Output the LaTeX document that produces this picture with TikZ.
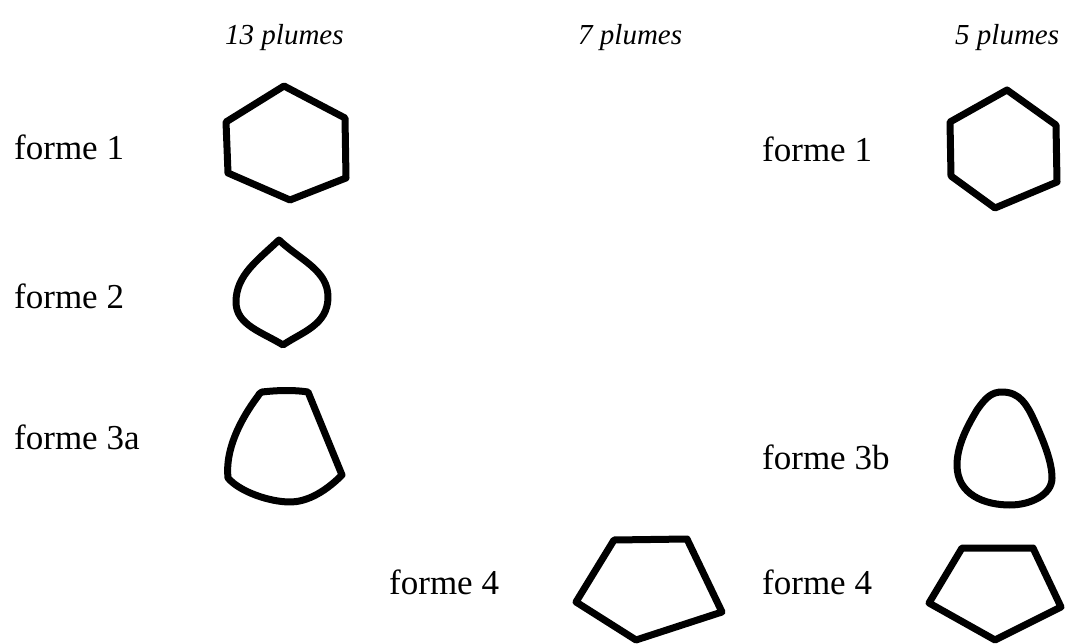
\documentclass[tikz,border=0pt]{standalone}
\usepackage{fontspec}
\setmainfont{Liberation Serif}
\begin{document}
\begin{tikzpicture}[x=1pt,y=-1pt,
  lbl/.style={anchor=base west,inner sep=0pt,font=\fontsize{35}{40}\selectfont},
  hdr/.style={anchor=base west,inner sep=0pt,font=\fontsize{29}{32}\selectfont\itshape},
  shp/.style={line width=7pt,line join=round,line cap=round}]
\useasboundingbox (0,0) rectangle (1066,644);
% headers
\node[hdr] (h13) at (225,45) {13 plumes};
\node[hdr] (h7) at (578,45) {7 plumes};
\node[hdr] (h5) at (955,45) {5 plumes};
% labels
\node[lbl] (l1) at (14,160) {forme 1};
\node[lbl] (l2) at (14,309) {forme 2};
\node[lbl] (l3a) at (14,449) {forme 3a};
\node[lbl] (r1) at (762,162) {forme 1};
\node[lbl] (r3b) at (762,469) {forme 3b};
\node[lbl] (m4) at (389,594) {forme 4};
\node[lbl] (r4) at (762,594) {forme 4};
% 13 plumes, forme 1
\draw[shp] (284,86) -- (345,118) -- (346,178) -- (290,200) -- (228,173) -- (226,122) -- cycle;
% forme 2
\draw[shp] (279,240) .. controls (300,260) and (328,270) .. (328,297)
  .. controls (328,325) and (302,332) .. (283,345)
  .. controls (262,332) and (236,325) .. (236,302)
  .. controls (236,275) and (258,260) .. (279,240) -- cycle;
% forme 3a
\draw[shp] (262,392) .. controls (280,390) and (295,390) .. (308,392)
  -- (342,475)
  .. controls (322,495) and (304,502) .. (290,502)
  .. controls (270,502) and (240,492) .. (228,478)
  .. controls (225,450) and (240,420) .. (258,396) .. controls (259,394) .. (262,392) -- cycle;
% 7 plumes, forme 4
\draw[shp] (614,540) -- (687,539) -- (722,612) -- (636,640) -- (576,602) -- cycle;
% 5 plumes, forme 1
\draw[shp] (1007,90) -- (1056,125) -- (1057,182) -- (995,208) -- (951,176) -- (950,122) -- cycle;
% forme 3b
\draw[shp] (1002,392) .. controls (1020,392) and (1027,405) .. (1034,420)
  .. controls (1044,442) and (1052,462) .. (1052,478)
  .. controls (1052,495) and (1030,505) .. (1010,505)
  .. controls (985,505) and (957,495) .. (957,465)
  .. controls (957,445) and (968,425) .. (977,410)
  .. controls (986,397) and (992,392) .. (1002,392) -- cycle;
% 5 plumes, forme 4
\draw[shp] (962,548) -- (1033,548) -- (1061,607) -- (995,640) -- (929,603) -- cycle;
\end{tikzpicture}
\end{document}
